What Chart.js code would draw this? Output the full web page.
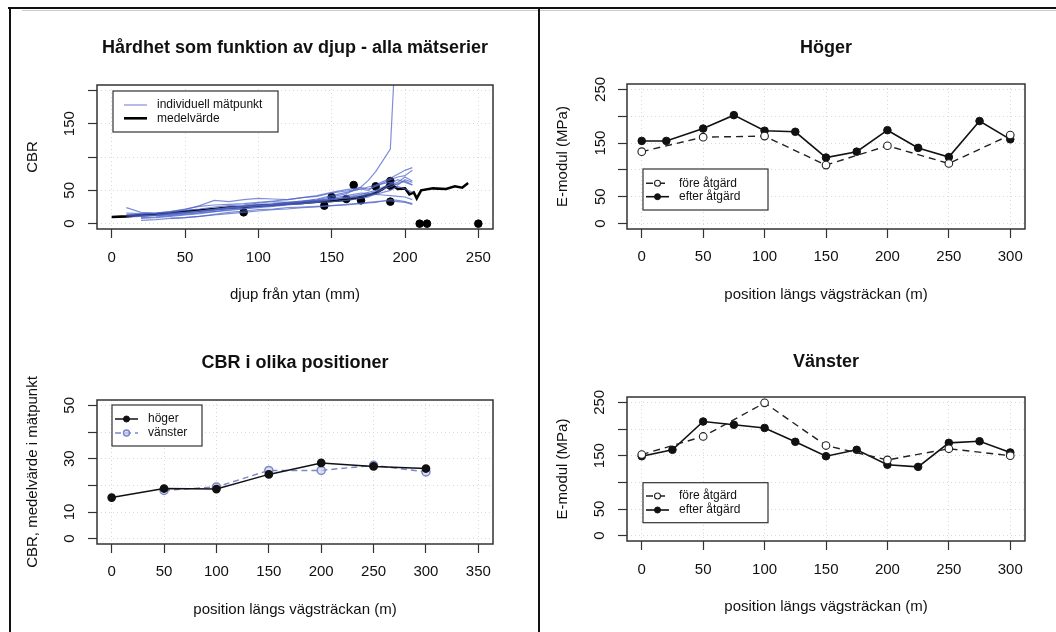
<!DOCTYPE html>
<html>
<head>
<meta charset="utf-8">
<script src="https://cdn.jsdelivr.net/npm/chart.js@4.4.1/dist/chart.umd.min.js"></script>
<style>
  html, body { margin: 0; padding: 0; background: #fff; }
  body { width: 1056px; height: 632px; position: relative; overflow: hidden; }
  .rule { position: absolute; background: #111; }
  canvas { position: absolute; }
</style>
</head>
<body>
<div class="rule" style="left:22px;top:10px;width:1034px;height:1px;background:#c9ccd3"></div>
<div class="rule" style="left:8px;top:7px;width:1048px;height:2px"></div>
<div class="rule" style="left:9px;top:7px;width:2px;height:625px"></div>
<div class="rule" style="left:538px;top:7px;width:2px;height:625px"></div>

<canvas id="hardness"></canvas>
<canvas id="hoger"></canvas>
<canvas id="positions"></canvas>
<canvas id="vanster"></canvas>

<script>
// --- top left: CBR against depth, every measuring point ---
const depthMm = [0, 10, 20, 30, 40, 50, 60, 70, 80, 90, 100, 110, 120, 130, 140, 150, 160, 170, 175, 180, 185, 190, 195, 200, 205, 210];
const cbrRun1 = [null, 24, 17, 16, 18, 21, 27, 35, 33, 36, 38, 37, 36, 39, 41, 46, 49, 52, 50, 57, 61, 66, 70, 72, 80, null];
const cbrRun2 = [null, 12, 12, 13, 15, 17, 19, 21, 23, 25, 27, 29, 31, 33, 36, 40, 45, 55, 65, 78, 95, 112, 330, null, null, null];
const cbrRun3 = [null, null, 8, 9, 11, 13, 15, 18, 21, 23, 25, 27, 29, 30, 32, 33, 35, 38, 40, 45, 52, 60, 66, 62, 58, null];
const cbrRun4 = [null, null, 5, 6, 8, 9, 11, 14, 17, 19, 21, 22, 24, 25, 26, 27, 28, 30, 31, 32, 34, 36, 35, 33, 30, null];
const cbrRun5 = [null, 14, 14, 15, 17, 20, 22, 25, 27, 28, 31, 33, 32, 34, 37, 42, 47, 52, 55, 58, 63, 68, 74, 80, 84, null];
const cbrRun6 = [null, 10, 11, 13, 15, 17, 19, 22, 24, 27, 29, 30, 32, 34, 35, 37, 38, 40, 42, 44, 47, 50, 56, 52, 47, null];
const cbrRun7 = [null, null, 9, 10, 12, 14, 16, 18, 20, 22, 24, 26, 28, 30, 33, 36, 40, 44, 47, 50, 55, 58, 62, 70, 64, null];
const cbrRun8 = [null, null, null, 12, 14, 16, 19, 21, 24, 26, 27, 29, 31, 33, 35, 38, 42, 46, 45, 44, 43, 42, 41, 40, 36, null];
const cbrRun9 = [null, null, null, null, 8, 9, 11, 13, 15, 17, 19, 21, 22, 24, 25, 27, 29, 31, 32, 33, 34, 34, 33, 32, 29, null];
const cbrRun10 = [null, 16, 15, 16, 18, 22, 26, 28, 29, 30, 32, 34, 36, 39, 42, 47, 51, 54, 52, 56, 60, 62, 58, 66, 62, null];
const cbrRun11 = [null, null, 11, 12, 13, 15, 17, 20, 23, 25, 27, 28, 30, 32, 34, 36, 39, 42, 44, 48, 52, 55, 60, 64, 58, null];
const meanDepth = [0, 10, 20, 30, 40, 50, 60, 70, 80, 90, 100, 110, 120, 130, 140, 150, 160, 170, 180, 185, 190, 195, 200, 203, 206, 208, 211, 219, 228, 234, 239, 243];
const meanCbr = [10, 11, 13, 14, 16, 18, 20, 22, 24, 25, 27, 28, 30, 31, 33, 34, 36, 40, 46, 52, 60, 52, 53, 44, 47, 38, 50, 53, 52, 56, 54, 61];
const dotDepth = [90, 145, 150, 160, 165, 170, 180, 190, 190, 190, 210, 215, 250];
const dotCbr = [17, 27, 40, 37, 58, 35, 56, 64, 57, 33, 0, 0, 0];
const depthTicks = [0, 50, 100, 150, 200, 250];
const cbrTicks = [0, 50, 100, 150, 200];
const cbrTickLabels = ['0', '50', '', '150', ''];

// --- top right: Höger ---
const hogerPosEfter = [0, 20, 50, 75, 100, 125, 150, 175, 200, 225, 250, 275, 300];
const hogerEfter = [154, 154, 177, 202, 173, 171, 123, 134, 174, 141, 124, 191, 157];
const hogerPosFore = [0, 50, 100, 150, 200, 250, 300];
const hogerFore = [134, 161, 163, 109, 145, 112, 165];

// --- bottom right: Vänster ---
const vansterPosEfter = [0, 25, 50, 75, 100, 125, 150, 175, 200, 225, 250, 275, 300];
const vansterEfter = [149, 161, 214, 208, 202, 176, 149, 161, 133, 129, 174, 177, 156];
const vansterPosFore = [0, 50, 100, 150, 200, 250, 300];
const vansterFore = [152, 186, 249, 169, 142, 163, 150];

const posTicks = [0, 50, 100, 150, 200, 250, 300];
const modTicks = [0, 50, 100, 150, 200, 250];
const modTickLabels = ['0', '50', '', '150', '', '250'];

// --- bottom left: CBR per position ---
const cbrPos = [0, 50, 100, 150, 200, 250, 300];
const cbrHoger = [15.4, 18.8, 18.6, 24.1, 28.4, 27.1, 26.3];
const cbrVanster = [null, 18.1, 19.4, 25.6, 25.6, 27.5, 25.0];
const cbrPosTicks = [0, 50, 100, 150, 200, 250, 300, 350];
const meanTicks = [0, 10, 20, 30, 40, 50];
const meanTickLabels = ['0', '10', '', '30', '', '50'];

const FONT = '"Liberation Sans", Arial, Helvetica, sans-serif';
const INK = '#111';
const BLUE = 'rgba(78, 100, 200, 0.72)';
Chart.defaults.font.family = FONT;
Chart.defaults.color = INK;

const pts = (xs, ys) => xs.map((x, i) => ({ x: x, y: ys[i] }));

const mctx = document.createElement('canvas').getContext('2d');
function widestLabel(labels, size) {
    mctx.font = size + 'px ' + FONT;
    return Math.max(...labels.map(t => mctx.measureText(t).width));
}

// box round the plot region, as R draws it
const framePlugin = {
    id: 'plotFrame',
    afterDatasetsDraw(chart) {
        const { ctx, chartArea: a } = chart;
        ctx.save();
        ctx.strokeStyle = '#333';
        ctx.lineWidth = 1.5;
        ctx.strokeRect(a.left, a.top, a.right - a.left, a.bottom - a.top);
        ctx.restore();
    }
};

// boxed legend inside the plot, line with its point symbol
const legendPlugin = {
    id: 'boxLegend',
    afterDraw(chart, args, o) {
        if (!o || !o.w) return;
        const { ctx, chartArea: a } = chart;
        const x0 = a.left + o.dx, y0 = a.top + o.dy;
        ctx.save();
        ctx.fillStyle = '#fff';
        ctx.fillRect(x0, y0, o.w, o.h);
        ctx.lineWidth = 1.2;
        ctx.strokeStyle = '#333';
        ctx.strokeRect(x0, y0, o.w, o.h);
        ctx.font = '12px ' + FONT;
        ctx.textBaseline = 'middle';
        chart.data.datasets.filter(d => d.label).forEach((d, i) => {
            const y = y0 + o.rows[i];
            ctx.setLineDash(d.borderDash || []);
            ctx.lineWidth = d.borderWidth;
            ctx.strokeStyle = d.borderColor;
            ctx.beginPath();
            ctx.moveTo(x0 + o.line[0], y);
            ctx.lineTo(x0 + o.line[1], y);
            ctx.stroke();
            ctx.setLineDash([]);
            if (d.pointRadius) {
                ctx.beginPath();
                ctx.arc(x0 + (o.line[0] + o.line[1]) / 2, y, 3, 0, Math.PI * 2);
                ctx.fillStyle = d.pointBackgroundColor;
                ctx.fill();
                ctx.lineWidth = d.pointBorderWidth || 1;
                ctx.strokeStyle = d.pointBorderColor;
                ctx.stroke();
            }
            ctx.fillStyle = INK;
            ctx.fillText(d.label, x0 + o.text, y);
        });
        ctx.restore();
    }
};

function makePanel(id, spec) {
    const f = spec.frame, b = spec.box;
    const cv = document.getElementById(id);
    cv.width = f.w;
    cv.height = f.h;
    cv.style.left = f.x + 'px';
    cv.style.top = f.y + 'px';

    const TL = 9, TICK = 15, AXT = 15, TTL = 18;
    const yc = (b.t + b.b) / 2;
    const padBottom = f.h - 2 * (yc - f.y);
    const scaleBottom = f.y + f.h - padBottom;
    const yTitlePad = spec.yTitleX - f.x - AXT / 2;
    const yScaleW = b.l - f.x - (AXT + yTitlePad);
    const xScaleH = scaleBottom - b.b;
    const yTickPad = (b.l - spec.yTickX) - TL - widestLabel(spec.yLabels, TICK) / 2;
    const xTickPad = spec.xTickY - b.b - TL - TICK / 2;
    const xTitlePad = Math.max(0, scaleBottom - spec.xTitleY - AXT / 2);

    const grid = { color: '#d9d9d9', lineWidth: 1, tickLength: TL, tickColor: '#333', tickWidth: 1.2, tickBorderDash: [] };
    const border = { display: false, dash: [1, 3] };

    return new Chart(cv, {
        type: 'line',
        data: { datasets: spec.datasets },
        plugins: [framePlugin, legendPlugin],
        options: {
            responsive: false,
            animation: false,
            devicePixelRatio: 1,
            layout: { autoPadding: false, padding: { left: 0, top: 0, right: f.x + f.w - b.r, bottom: padBottom } },
            plugins: {
                legend: { display: false },
                tooltip: { enabled: false },
                title: {
                    display: true, text: spec.title, position: 'top', fullSize: false,
                    font: { size: TTL, weight: 'bold', lineHeight: 1 }, color: INK,
                    padding: { top: spec.titleY - f.y - TTL / 2, bottom: b.t - spec.titleY - TTL / 2 }
                },
                subtitle: {
                    display: true, text: spec.yTitle, position: 'left', fullSize: true,
                    font: { size: AXT, lineHeight: 1 }, color: INK,
                    padding: { top: yTitlePad, bottom: 0 }
                },
                boxLegend: spec.legend
            },
            scales: {
                x: {
                    type: 'linear', bounds: 'data', min: spec.xMin, max: spec.xMax,
                    afterBuildTicks: s => { s.ticks = spec.xTicks.map(v => ({ value: v })); },
                    afterFit: s => { s.height = xScaleH; },
                    ticks: { font: { size: TICK, lineHeight: 1 }, padding: xTickPad, maxRotation: 0, autoSkip: false, color: INK },
                    grid: grid, border: border,
                    title: { display: true, text: spec.xTitle, font: { size: AXT, lineHeight: 1 }, color: INK, padding: { top: 0, bottom: xTitlePad } }
                },
                y: {
                    type: 'linear', bounds: 'data', min: spec.yMin, max: spec.yMax,
                    afterBuildTicks: s => { s.ticks = spec.yTicks.map(v => ({ value: v })); },
                    afterFit: s => { s.width = yScaleW; },
                    ticks: {
                        font: { size: TICK, lineHeight: 1 }, padding: yTickPad, minRotation: 90, maxRotation: 90,
                        crossAlign: 'center', autoSkip: false, color: INK,
                        callback: (v, i) => spec.yLabels[i]
                    },
                    grid: grid, border: border
                }
            }
        }
    });
}

const runs = [cbrRun1, cbrRun2, cbrRun3, cbrRun4, cbrRun5, cbrRun6, cbrRun7, cbrRun8, cbrRun9, cbrRun10, cbrRun11];
const hardnessSets = runs.map((vals, i) => ({
    label: i === 0 ? 'individuell mätpunkt' : '',
    data: pts(depthMm, vals),
    borderColor: BLUE, borderWidth: 1.2, pointRadius: 0
}));
hardnessSets.push({
    label: 'medelvärde', data: pts(meanDepth, meanCbr),
    borderColor: '#000', borderWidth: 2.6, pointRadius: 0
});
hardnessSets.push({
    label: '', data: pts(dotDepth, dotCbr), showLine: false,
    pointRadius: 3.8, pointBackgroundColor: '#000', pointBorderColor: '#000', borderColor: '#000'
});

makePanel('hardness', {
    frame: { x: 11, y: 11, w: 526, h: 300 }, box: { l: 97, t: 85, r: 493, b: 229 },
    titleY: 48, xTickY: 258, xTitleY: 295, yTickX: 70, yTitleX: 33,
    title: 'Hårdhet som funktion av djup - alla mätserier',
    xTitle: 'djup från ytan (mm)', yTitle: 'CBR',
    xMin: -10, xMax: 260, yMin: -8, yMax: 208,
    xTicks: depthTicks, yTicks: cbrTicks, yLabels: cbrTickLabels,
    datasets: hardnessSets,
    legend: { dx: 16, dy: 6, w: 165, h: 41, rows: [14, 27.3], line: [11, 34], text: 44 }
});

function modulSets(posFore, fore, posEfter, efter) {
    return [
        {
            label: 'före åtgärd', data: pts(posFore, fore),
            borderColor: '#222', borderWidth: 1.4, borderDash: [7, 5],
            pointRadius: 3.8, pointBackgroundColor: '#fff', pointBorderColor: '#222', pointBorderWidth: 1.1
        },
        {
            label: 'efter åtgärd', data: pts(posEfter, efter),
            borderColor: '#111', borderWidth: 1.6,
            pointRadius: 3.8, pointBackgroundColor: '#111', pointBorderColor: '#111', pointBorderWidth: 1
        }
    ];
}

makePanel('hoger', {
    frame: { x: 541, y: 10, w: 515, h: 300 }, box: { l: 627, t: 84, r: 1025, b: 229 },
    titleY: 48, xTickY: 257, xTitleY: 295, yTickX: 601, yTitleX: 563,
    title: 'Höger', xTitle: 'position längs vägsträckan (m)', yTitle: 'E-modul (MPa)',
    xMin: -12, xMax: 312, yMin: -10, yMax: 260,
    xTicks: posTicks, yTicks: modTicks, yLabels: modTickLabels,
    datasets: modulSets(hogerPosFore, hogerFore, hogerPosEfter, hogerEfter),
    legend: { dx: 16, dy: 85, w: 125, h: 41, rows: [14.3, 27.7], line: [3, 26], text: 36 }
});

makePanel('positions', {
    frame: { x: 11, y: 322, w: 526, h: 310 }, box: { l: 97, t: 400, r: 493, b: 544 },
    titleY: 363, xTickY: 572, xTitleY: 610, yTickX: 70, yTitleX: 33,
    title: 'CBR i olika positioner', xTitle: 'position längs vägsträckan (m)', yTitle: 'CBR, medelvärde i mätpunkt',
    xMin: -14, xMax: 364, yMin: -2, yMax: 52,
    xTicks: cbrPosTicks, yTicks: meanTicks, yLabels: meanTickLabels,
    datasets: [
        {
            label: 'höger', data: pts(cbrPos, cbrHoger),
            borderColor: '#111', borderWidth: 1.5,
            pointRadius: 3.6, pointBackgroundColor: '#111', pointBorderColor: '#111'
        },
        {
            label: 'vänster', data: pts(cbrPos, cbrVanster),
            borderColor: '#7c86c8', borderWidth: 1.5, borderDash: [6, 4],
            pointRadius: 4, pointBackgroundColor: 'rgba(205,210,240,0.7)', pointBorderColor: '#7c86c8', pointBorderWidth: 1.5
        }
    ],
    legend: { dx: 15, dy: 5, w: 90, h: 41, rows: [14, 28], line: [3, 26], text: 36 }
});

makePanel('vanster', {
    frame: { x: 541, y: 322, w: 515, h: 310 }, box: { l: 627, t: 397, r: 1025, b: 541 },
    titleY: 362, xTickY: 570, xTitleY: 607, yTickX: 600, yTitleX: 563,
    title: 'Vänster', xTitle: 'position längs vägsträckan (m)', yTitle: 'E-modul (MPa)',
    xMin: -12, xMax: 312, yMin: -10, yMax: 260,
    xTicks: posTicks, yTicks: modTicks, yLabels: modTickLabels,
    datasets: modulSets(vansterPosFore, vansterFore, vansterPosEfter, vansterEfter),
    legend: { dx: 16, dy: 85.7, w: 125, h: 40, rows: [13.3, 27.3], line: [3, 26], text: 36 }
});
</script>
</body>
</html>
